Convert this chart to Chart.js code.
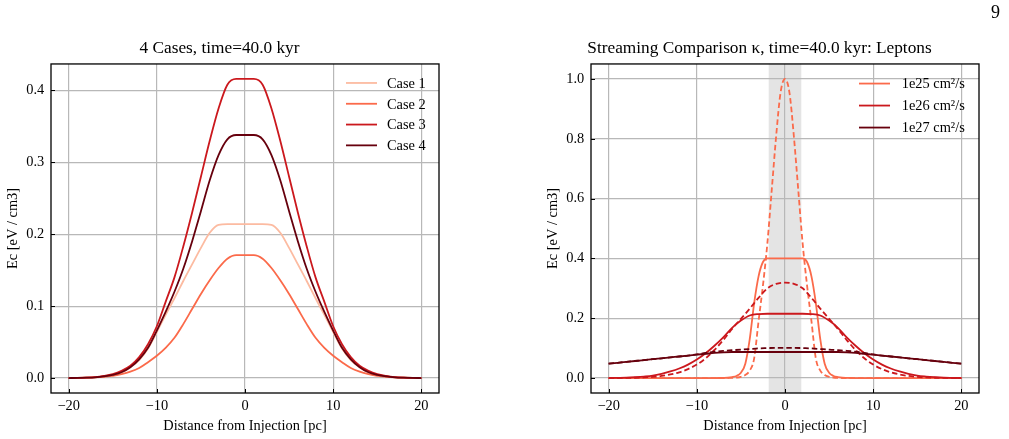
<!DOCTYPE html>
<html lang="en">
<head>
<meta charset="utf-8">
<script src="https://cdn.jsdelivr.net/npm/chart.js"></script>
<style>
  body { margin: 0; background: #fff; }
  #wrap { position: relative; width: 1009px; height: 439px; }
  #wrap canvas { position: absolute; top: 0; }
  #pageNum { position: absolute; left: 991px; top: 2px; font: 18px 'Liberation Serif', 'Times New Roman', serif; color: #000; }
</style>
</head>
<body>
<div id="wrap">
  <canvas id="leftChart" width="460" height="439" style="left:0"></canvas>
  <canvas id="rightChart" width="469" height="439" style="left:540px"></canvas>
  <div id="pageNum">9</div>
</div>

<script>
// ---- data ----
const xTicks = [-20, -10, 0, 10, 20];
const yTicksLeft = [0, 0.1, 0.2, 0.3, 0.4];
const yTicksRight = [0, 0.2, 0.4, 0.6, 0.8, 1.0];

// left panel, x = -20 .. 20 step 1
const xCases = [-20,-19,-18,-17,-16,-15,-14,-13,-12,-11,-10,-9,-8,-7,-6,-5,-4,-3,-2,-1,0,1,2,3,4,5,6,7,8,9,10,11,12,13,14,15,16,17,18,19,20];
const caseLabels = ['Case 1', 'Case 2', 'Case 3', 'Case 4'];
const case1 = [0,0.0002,0.0005,0.001,0.0023,0.0045,0.008,0.015,0.025,0.041,0.064,0.088,0.111,0.135,0.158,0.181,0.202,0.213,0.214,0.214,0.214,0.214,0.214,0.213,0.202,0.181,0.158,0.135,0.111,0.088,0.064,0.041,0.025,0.015,0.008,0.0045,0.0023,0.001,0.0005,0.0002,0];
const case2 = [0,0.0002,0.0005,0.001,0.0018,0.003,0.0055,0.009,0.014,0.022,0.031,0.042,0.056,0.075,0.096,0.117,0.136,0.153,0.166,0.171,0.171,0.171,0.166,0.153,0.136,0.117,0.096,0.075,0.056,0.042,0.031,0.022,0.014,0.009,0.0055,0.003,0.0018,0.001,0.0005,0.0002,0];
const case3 = [0,0.0002,0.0006,0.0014,0.003,0.0055,0.010,0.017,0.029,0.047,0.072,0.106,0.140,0.183,0.230,0.280,0.330,0.375,0.408,0.416,0.416,0.416,0.408,0.375,0.330,0.280,0.230,0.183,0.140,0.106,0.072,0.047,0.029,0.017,0.010,0.0055,0.003,0.0014,0.0006,0.0002,0];
const case4 = [0,0.0002,0.0005,0.001,0.0023,0.0045,0.008,0.015,0.026,0.042,0.066,0.092,0.120,0.152,0.190,0.232,0.275,0.310,0.332,0.338,0.338,0.338,0.332,0.310,0.275,0.232,0.190,0.152,0.120,0.092,0.066,0.042,0.026,0.015,0.008,0.0045,0.0023,0.001,0.0005,0.0002,0];

// right panel
const kappaLabels = ['1e25 cm\u00b2/s', '1e26 cm\u00b2/s', '1e27 cm\u00b2/s'];
const xNarrow = [-20,-8,-7.5,-7,-6.5,-6,-5.5,-5,-4.5,-4,-3.5,-3,-2.5,-2,-1.5,-1,-0.5,0,0.5,1,1.5,2,2.5,3,3.5,4,4.5,5,5.5,6,6.5,7,7.5,8,20];
const k25Solid = [0,0,0.0001,0.0004,0.001,0.003,0.007,0.018,0.048,0.13,0.25,0.34,0.388,0.4,0.4,0.4,0.4,0.4,0.4,0.4,0.4,0.4,0.388,0.34,0.25,0.13,0.048,0.018,0.007,0.003,0.001,0.0004,0.0001,0,0];
const k25Dash = [0,0,0,0,0.0002,0.0005,0.0015,0.004,0.01,0.025,0.065,0.19,0.31,0.45,0.63,0.81,0.955,1.0,0.955,0.81,0.63,0.45,0.31,0.19,0.065,0.025,0.01,0.004,0.0015,0.0005,0.0002,0,0,0,0];
const xWide = xCases;
const k26Solid = [0,0.0007,0.0015,0.003,0.005,0.008,0.014,0.022,0.032,0.045,0.062,0.083,0.108,0.136,0.168,0.192,0.209,0.214,0.215,0.215,0.215,0.215,0.215,0.214,0.209,0.192,0.168,0.136,0.108,0.083,0.062,0.045,0.032,0.022,0.014,0.008,0.005,0.003,0.0015,0.0007,0];
const k26Dash = [0,0.0002,0.0005,0.001,0.002,0.004,0.007,0.012,0.019,0.030,0.045,0.066,0.094,0.127,0.164,0.198,0.232,0.268,0.300,0.315,0.319,0.315,0.300,0.268,0.232,0.198,0.164,0.127,0.094,0.066,0.045,0.030,0.019,0.012,0.007,0.004,0.002,0.001,0.0005,0.0002,0];
const k27Solid = [0.048,0.051,0.054,0.057,0.060,0.063,0.066,0.069,0.072,0.075,0.078,0.081,0.084,0.086,0.087,0.087,0.087,0.087,0.087,0.087,0.087,0.087,0.087,0.087,0.087,0.087,0.087,0.086,0.084,0.081,0.078,0.075,0.072,0.069,0.066,0.063,0.060,0.057,0.054,0.051,0.048];
const k27Dash = [0.048,0.051,0.054,0.057,0.060,0.063,0.066,0.069,0.072,0.075,0.079,0.084,0.088,0.091,0.093,0.095,0.097,0.099,0.100,0.101,0.101,0.101,0.100,0.099,0.097,0.095,0.093,0.091,0.088,0.084,0.079,0.075,0.072,0.069,0.066,0.063,0.060,0.057,0.054,0.051,0.048];
const injectionBand = [-1.85, 1.85];

// ---- style ----
const SERIF = "'Liberation Serif', 'Times New Roman', serif";
const caseColors = ['#fcbba1', '#fb6a4a', '#cb181d', '#67000d'];
const kappaColors = ['#fb6a4a', '#cb181d', '#67000d'];
Chart.defaults.font.family = SERIF;
Chart.defaults.color = '#000';

function pts(xs, ys) {
  return xs.map((x, i) => ({x: x, y: ys[i]}));
}

function line(label, xs, ys, color, dashed, order) {
  return {
    label: label,
    data: pts(xs, ys),
    borderColor: color,
    borderWidth: 1.8,
    borderDash: dashed ? [5.5, 3] : [],
    pointRadius: 0,
    fill: false,
    cubicInterpolationMode: 'monotone',
    order: order
  };
}

// grey band behind everything
const bandPlugin = {
  id: 'band',
  beforeDraw(chart, args, opts) {
    if (!opts.range) return;
    const {ctx, chartArea: a, scales} = chart;
    const x0 = scales.x.getPixelForValue(opts.range[0]);
    const x1 = scales.x.getPixelForValue(opts.range[1]);
    ctx.save();
    ctx.fillStyle = '#e4e4e4';
    ctx.fillRect(x0, a.top, x1 - x0, a.bottom - a.top);
    ctx.restore();
  }
};

// box spines + inward ticks
const framePlugin = {
  id: 'frame',
  afterDraw(chart) {
    const {ctx, chartArea: a, scales} = chart;
    ctx.save();
    ctx.strokeStyle = '#000';
    ctx.setLineDash([]);
    ctx.lineWidth = 1;
    ctx.beginPath();
    scales.x.ticks.forEach(t => {
      const px = Math.round(scales.x.getPixelForValue(t.value)) + 0.5;
      ctx.moveTo(px, a.bottom); ctx.lineTo(px, a.bottom - 4);
    });
    scales.y.ticks.forEach(t => {
      const py = Math.round(scales.y.getPixelForValue(t.value)) + 0.5;
      ctx.moveTo(a.left, py); ctx.lineTo(a.left + 4, py);
    });
    ctx.stroke();
    ctx.lineWidth = 1.3;
    ctx.strokeRect(a.left, a.top, a.right - a.left, a.bottom - a.top);
    ctx.restore();
  }
};

// matplotlib-like legend: line sample + text, no frame
const legendPlugin = {
  id: 'lineLegend',
  afterDraw(chart, args, opts) {
    const {ctx, chartArea: a} = chart;
    const x0 = a.right - opts.fromRight;
    let y = a.top + opts.firstRow;
    ctx.save();
    ctx.font = '14.4px ' + SERIF;
    ctx.textBaseline = 'middle';
    ctx.textAlign = 'left';
    chart.data.datasets.forEach(ds => {
      if (!ds.label || ds.borderDash.length) return;
      ctx.strokeStyle = ds.borderColor;
      ctx.lineWidth = ds.borderWidth;
      ctx.setLineDash([]);
      ctx.beginPath();
      ctx.moveTo(x0, y); ctx.lineTo(x0 + 31, y);
      ctx.stroke();
      ctx.fillStyle = '#000';
      ctx.fillText(ds.label, x0 + 31 + opts.gap, y + 1);
      y += opts.rowStep;
    });
    ctx.restore();
  }
};

function makeOptions(title, yMin, yMax, yTicks, rightPad, legendOpts, band) {
  return {
    responsive: false,
    animation: false,
    layout: { padding: { left: 0, right: rightPad, top: 0, bottom: 0 } },
    plugins: {
      legend: { display: false },
      tooltip: { enabled: false },
      title: {
        display: true,
        text: title,
        color: '#000',
        font: { size: 17.3, weight: 'normal', family: SERIF },
        padding: { top: 38.5, bottom: 4.7 }
      },
      lineLegend: legendOpts,
      band: { range: band }
    },
    scales: {
      x: {
        type: 'linear',
        min: -22,
        max: 22,
        afterBuildTicks: axis => { axis.ticks = xTicks.map(v => ({value: v})); },
        afterFit: s => { s.height = 46; },
        grid: { color: '#b8b8b8', lineWidth: 1.2, drawTicks: false },
        border: { display: false },
        ticks: {
          padding: 4.5,
          font: { size: 14.4 },
          callback: v => (v < 0 ? '\u2212' + Math.abs(v) : String(v))
        },
        title: {
          display: true,
          text: 'Distance from Injection [pc]',
          font: { size: 14.4 },
          padding: { top: 0, bottom: 4.2 }
        }
      },
      y: {
        type: 'linear',
        min: yMin,
        max: yMax,
        afterBuildTicks: axis => { axis.ticks = yTicks.map(v => ({value: v})); },
        afterFit: s => { s.width = 51; },
        grid: { color: '#b8b8b8', lineWidth: 1.2, drawTicks: false },
        border: { display: false },
        ticks: {
          padding: 6.7,
          font: { size: 14.4 },
          callback: v => v.toFixed(1)
        },
        title: {
          display: true,
          text: 'Ec [eV / cm3]',
          font: { size: 14.4 },
          padding: { top: 4.5, bottom: 0 }
        }
      }
    }
  };
}

// ---- left: 4 cases ----
const caseSeries = [case1, case2, case3, case4];
new Chart(document.getElementById('leftChart').getContext('2d'), {
  type: 'line',
  data: {
    datasets: caseSeries.map((ys, i) => line(caseLabels[i], xCases, ys, caseColors[i], false, caseSeries.length - i))
  },
  options: makeOptions('4 Cases, time=40.0 kyr', -0.0208, 0.4368, yTicksLeft, 21,
    { fromRight: 93, firstRow: 19, rowStep: 20.8, gap: 10 }, null),
  plugins: [bandPlugin, framePlugin, legendPlugin]
});

// ---- right: streaming comparison ----
new Chart(document.getElementById('rightChart').getContext('2d'), {
  type: 'line',
  data: {
    datasets: [
      line(kappaLabels[0], xNarrow, k25Solid, kappaColors[0], false, 6),
      line(null, xNarrow, k25Dash, kappaColors[0], true, 5),
      line(kappaLabels[1], xWide, k26Solid, kappaColors[1], false, 4),
      line(null, xWide, k26Dash, kappaColors[1], true, 3),
      line(kappaLabels[2], xWide, k27Solid, kappaColors[2], false, 2),
      line(null, xWide, k27Dash, kappaColors[2], true, 1)
    ]
  },
  options: makeOptions('Streaming Comparison \u03ba, time=40.0 kyr: Leptons', -0.05, 1.05, yTicksRight, 30,
    { fromRight: 120, firstRow: 19.6, rowStep: 22, gap: 11.7 }, injectionBand),
  plugins: [bandPlugin, framePlugin, legendPlugin]
});
</script>
</body>
</html>
